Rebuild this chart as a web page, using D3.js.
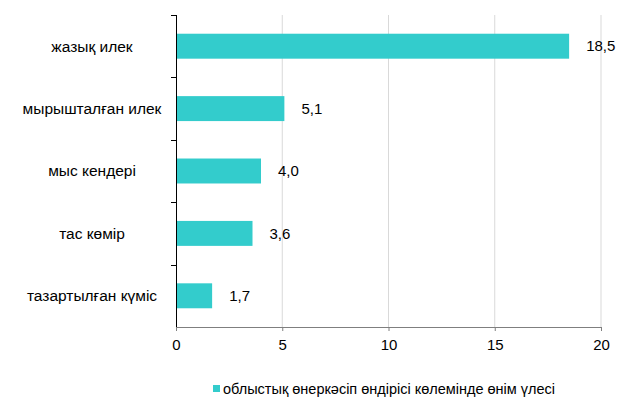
<!DOCTYPE html>
<html><head><meta charset="utf-8">
<script src="https://cdn.jsdelivr.net/npm/d3@7"></script>
<style>body{margin:0;background:#fff}svg{display:block}text{font-family:"Liberation Sans",Arial,sans-serif;fill:#000}</style>
</head><body>
<svg id="c" width="619" height="400"></svg>
<script>
const categories = ["жазық илек","мырышталған илек","мыс кендері","тас көмір","тазартылған күміс"];
const values = [18.5,5.1,4.0,3.6,1.7];
const xTicks = [0,5,10,15,20];
const seriesName = "облыстық өнеркәсіп өндірісі көлемінде өнім үлесі";
const color = "#33CCCC";

const svg = d3.select("#c");
const L=176, R=601, T=15, B=327;
const x = d3.scaleLinear().domain([0,20]).range([L,R]);
const y = d3.scaleBand().domain(categories).range([T,B]).paddingInner(0.6).paddingOuter(0.3);
const yb = d3.scaleBand().domain(categories).range([T,B]);

// gridlines
svg.append("g").selectAll("line").data(xTicks.filter(d=>d>0)).join("line")
  .attr("x1",d=>x(d)).attr("x2",d=>x(d)).attr("y1",T).attr("y2",B)
  .attr("stroke","#d9d9d9").attr("stroke-width",1);

// bars
svg.append("g").selectAll("rect").data(values).join("rect")
  .attr("x",x(0)).attr("y",(d,i)=>y(categories[i]))
  .attr("width",d=>x(d)-x(0)).attr("height",y.bandwidth()).attr("fill",color);

// value labels
svg.append("g").selectAll("text").data(values).join("text")
  .attr("x",d=>x(d)+17).attr("y",(d,i)=>y(categories[i])+y.bandwidth()/2)
  .attr("dy","0.35em").attr("font-size",15)
  .text(d=>d.toFixed(1).replace(".",","));

// x axis
const xa = svg.append("g").attr("transform",`translate(0,${B})`)
  .call(d3.axisBottom(x).tickValues(xTicks).tickSize(4).tickSizeOuter(0).tickPadding(8));
xa.select(".domain").attr("stroke","#7f7f7f");
xa.selectAll(".tick line").attr("stroke","#7f7f7f");
xa.selectAll("text").attr("font-size",15).attr("font-family","Liberation Sans, Arial, sans-serif").attr("fill","#000");

// y axis line with boundary ticks
svg.append("line").attr("x1",L+0.5).attr("x2",L+0.5).attr("y1",T).attr("y2",B).attr("stroke","#000");
const bounds = categories.map(c=>yb(c));
svg.append("g").selectAll("line").data(bounds).join("line")
  .attr("x1",L-5).attr("x2",L).attr("y1",d=>Math.round(d)+0.5).attr("y2",d=>Math.round(d)+0.5).attr("stroke","#000");

// category labels
svg.append("g").selectAll("text").data(categories).join("text")
  .attr("x",92).attr("y",d=>y(d)+y.bandwidth()/2).attr("dy","0.35em")
  .attr("text-anchor","middle").attr("font-size",15.5).text(d=>d);

// legend
const lg = svg.append("g");
lg.append("rect").attr("x",213).attr("y",385).attr("width",7).attr("height",7).attr("fill",color);
lg.append("text").attr("x",223).attr("y",389).attr("dy","0.35em").attr("font-size",14.5).text(seriesName);
</script>
</body></html>
